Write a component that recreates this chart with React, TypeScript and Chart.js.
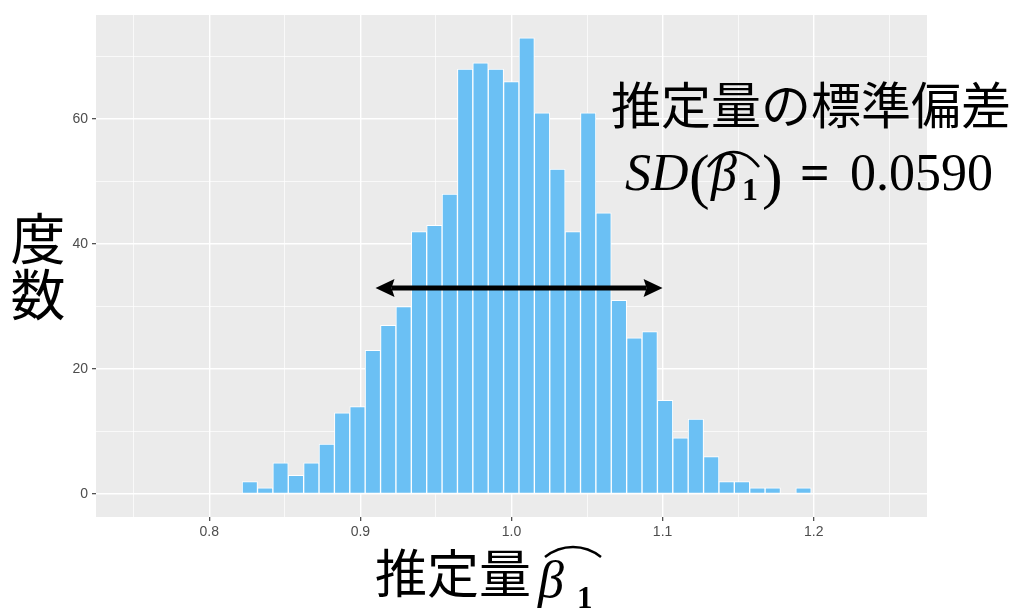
import React, { useEffect, useRef } from "react";
import { Chart, registerables } from "chart.js";

Chart.register(...registerables);

// ---- data ----
const binCenters = [
  0.8268, 0.83698, 0.84716, 0.85734, 0.86752, 0.8777, 0.88788, 0.89806, 0.90824,
  0.91842, 0.9286, 0.93878, 0.94896, 0.95914, 0.96932, 0.9795, 0.98968, 0.99986,
  1.01004, 1.02022, 1.0304, 1.04058, 1.05076, 1.06094, 1.07112, 1.0813, 1.09148,
  1.10166, 1.11184, 1.12202, 1.1322, 1.14238, 1.15256, 1.16274, 1.17292, 1.1831,
  1.19328,
];
const counts = [
  2, 1, 5, 3, 5, 8, 13, 14, 23, 27, 30, 42, 43, 48, 68, 69, 68, 66, 73, 61, 52,
  42, 61, 45, 31, 25, 26, 15, 9, 12, 6, 2, 2, 1, 1, 0, 1,
];
const xMajorTicks = [0.8, 0.9, 1.0, 1.1, 1.2];
const xMinorTicks = [0.75, 0.85, 0.95, 1.05, 1.15, 1.25];
const yMajorTicks = [0, 20, 40, 60];
const yMinorTicks = [10, 30, 50, 70];
const xRange = [0.725, 1.275];
const yRange = [-3.65, 76.65];
const arrowFrom = 0.91;
const arrowTo = 1.1;
const arrowLevel = 33;
const annotationTitle = "推定量の標準偏差";
const sdLabel = "SD";
const sdValue = "0.0590";
const xTitle = "推定量";
const yTitle = ["度", "数"];

const CJK = '"Noto Sans CJK JP", "Noto Sans CJK SC", sans-serif';
const SERIF = '"Liberation Serif", "DejaVu Serif", serif';

const isIn = (list: number[], v: number) => list.some((m) => Math.abs(m - v) < 1e-6);

function drawHat(ctx: CanvasRenderingContext2D, x0: number, x1: number, yBase: number, yPeak: number) {
  const mid = (x0 + x1) / 2;
  ctx.beginPath();
  ctx.moveTo(x0, yBase);
  ctx.quadraticCurveTo(x0 + (mid - x0) * 0.45, yPeak, mid, yPeak);
  ctx.quadraticCurveTo(x1 - (x1 - mid) * 0.45, yPeak, x1, yBase);
  ctx.stroke();
}

const overlayPlugin = {
  id: "overlay",
  beforeDraw(chart: any) {
    const { ctx, chartArea: a } = chart;
    ctx.save();
    ctx.fillStyle = "#FFFFFF";
    ctx.fillRect(0, 0, chart.width, chart.height);
    ctx.fillStyle = "#EBEBEB";
    ctx.fillRect(a.left, a.top, a.right - a.left, a.bottom - a.top);
    ctx.restore();
  },
  afterDraw(chart: any) {
    const { ctx } = chart;
    const xs = chart.scales.x;
    const ys = chart.scales.y;
    ctx.save();
    // double-headed arrow
    const ax1 = xs.getPixelForValue(arrowFrom);
    const ax2 = xs.getPixelForValue(arrowTo);
    const ay = ys.getPixelForValue(arrowLevel);
    const headLen = 19;
    const headHalf = 9;
    ctx.strokeStyle = "#000";
    ctx.fillStyle = "#000";
    ctx.lineWidth = 5;
    ctx.beginPath();
    ctx.moveTo(ax1 + headLen - 3, ay);
    ctx.lineTo(ax2 - headLen + 3, ay);
    ctx.stroke();
    ctx.beginPath();
    ctx.moveTo(ax1, ay);
    ctx.lineTo(ax1 + headLen, ay - headHalf);
    ctx.lineTo(ax1 + headLen - 3, ay);
    ctx.lineTo(ax1 + headLen, ay + headHalf);
    ctx.closePath();
    ctx.fill();
    ctx.beginPath();
    ctx.moveTo(ax2, ay);
    ctx.lineTo(ax2 - headLen, ay - headHalf);
    ctx.lineTo(ax2 - headLen + 3, ay);
    ctx.lineTo(ax2 - headLen, ay + headHalf);
    ctx.closePath();
    ctx.fill();

    // annotation title
    ctx.fillStyle = "#000";
    ctx.textAlign = "left";
    ctx.textBaseline = "middle";
    ctx.font = `50px ${CJK}`;
    ctx.fillText(annotationTitle, 611, 105);

    // SD(beta_hat_1) = 0.0590
    ctx.textBaseline = "alphabetic";
    ctx.font = `italic 52px ${SERIF}`;
    ctx.fillText(sdLabel, 625, 190);
    ctx.font = `62px ${SERIF}`;
    ctx.fillText("(", 689, 197);
    ctx.font = `italic 52px ${SERIF}`;
    ctx.fillText("β", 711, 190);
    ctx.font = `bold 32px ${SERIF}`;
    ctx.fillText("1", 742, 200);
    ctx.font = `62px ${SERIF}`;
    ctx.fillText(")", 762, 197);
    ctx.font = `bold 52px ${SERIF}`;
    ctx.fillText("=", 800, 190);
    ctx.font = `52px ${SERIF}`;
    ctx.fillText(sdValue, 850, 190);
    ctx.lineWidth = 2.5;
    drawHat(ctx, 708, 759, 167, 152);

    // x axis title
    ctx.font = `52px ${CJK}`;
    ctx.fillText(xTitle, 375, 593);
    ctx.font = `italic 52px ${SERIF}`;
    ctx.fillText("β", 538, 597);
    ctx.font = `bold 31px ${SERIF}`;
    ctx.fillText("1", 577, 608);
    ctx.lineWidth = 2.5;
    drawHat(ctx, 545, 601, 557, 547);

    // y axis title (stacked)
    ctx.textAlign = "center";
    ctx.textBaseline = "middle";
    ctx.font = `55px ${CJK}`;
    ctx.fillText(yTitle[0], 38, 238);
    ctx.fillText(yTitle[1], 38, 294);
    ctx.restore();
  },
};

export default function App() {
  const ref = useRef<HTMLCanvasElement | null>(null);
  useEffect(() => {
    document.body.style.margin = "0";
    const canvas = ref.current;
    if (!canvas) return;
    Chart.defaults.font.family = '"Liberation Sans", Arial, sans-serif';
    const gridOpts = (major: number[]) => ({
      offset: false,
      color: "#FFFFFF",
      lineWidth: (c: any) => (c.tick && isIn(major, c.tick.value) ? 1.4 : 0.7),
      tickColor: (c: any) => (c.tick && isIn(major, c.tick.value) ? "#333333" : "rgba(0,0,0,0)"),
      tickWidth: 1.1,
      tickLength: 4,
      drawTicks: true,
    });
    const chart = new Chart(canvas, {
      type: "bar",
      data: {
        datasets: [
          {
            data: binCenters.map((x, i) => ({ x, y: counts[i] })),
            backgroundColor: "#6BC0F4",
            borderColor: "#FFFFFF",
            borderWidth: 1,
            borderSkipped: false,
            barPercentage: 1,
            categoryPercentage: 1,
            grouped: false,
          } as any,
        ],
      },
      options: {
        animation: false,
        responsive: false,
        devicePixelRatio: 1,
        layout: { padding: { left: 0, right: 97, top: 15, bottom: 0 } },
        plugins: {
          legend: { display: false },
          tooltip: { enabled: false },
          title: { display: false },
        },
        scales: {
          x: {
            type: "linear",
            min: xRange[0],
            max: xRange[1],
            offset: false,
            afterBuildTicks: (s: any) => {
              s.ticks = [...xMinorTicks, ...xMajorTicks]
                .sort((a, b) => a - b)
                .map((v) => ({ value: v }));
            },
            afterFit: (s: any) => {
              s.height = 94;
            },
            grid: gridOpts(xMajorTicks) as any,
            border: { display: false },
            ticks: {
              autoSkip: false,
              maxRotation: 0,
              padding: 3,
              color: "#4D4D4D",
              font: { size: 14 },
              callback: (v: any) => (isIn(xMajorTicks, Number(v)) ? Number(v).toFixed(1) : ""),
            },
          },
          y: {
            type: "linear",
            min: yRange[0],
            max: yRange[1],
            afterBuildTicks: (s: any) => {
              s.ticks = [...yMinorTicks, ...yMajorTicks]
                .sort((a, b) => a - b)
                .map((v) => ({ value: v }));
            },
            afterFit: (s: any) => {
              s.width = 96;
            },
            grid: gridOpts(yMajorTicks) as any,
            border: { display: false },
            ticks: {
              autoSkip: false,
              padding: 4,
              color: "#4D4D4D",
              font: { size: 14 },
              callback: (v: any) => (isIn(yMajorTicks, Number(v)) ? String(v) : ""),
            },
          },
        },
      },
      plugins: [overlayPlugin],
    });
    return () => chart.destroy();
  }, []);
  return (
    <div style={{ position: "absolute", left: 0, top: 0, width: 1024, height: 611 }}>
      <canvas ref={ref} width={1024} height={611} />
    </div>
  );
}
